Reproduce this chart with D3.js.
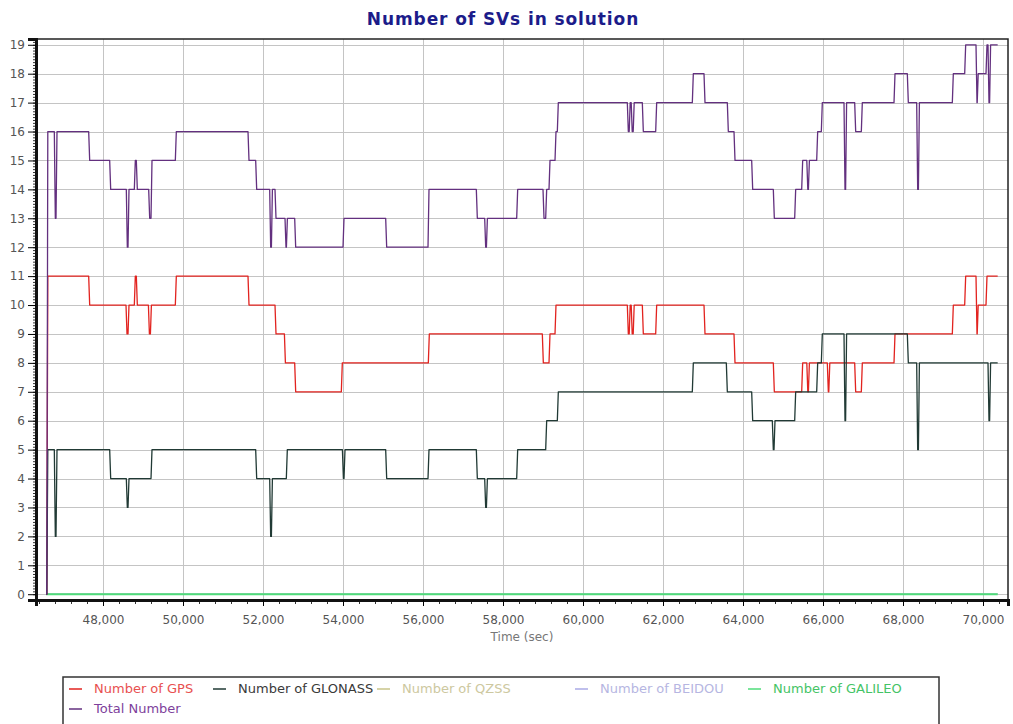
<!DOCTYPE html>
<html>
<head>
<meta charset="utf-8">
<script src="https://cdn.jsdelivr.net/npm/d3@7"></script>
<style>
body{margin:0;background:#fff;}
text{font-family:"DejaVu Sans",Verdana,sans-serif;}
</style>
</head>
<body>
<svg id="chart" width="1013" height="724"></svg>
<script>
// series: [time (sec), number of SVs] at each change
var gpsSteps=[[46575,0],[46620,11],[47667,10],[48600,9],[48650,10],[48808,11],[48858,10],[49160,9],[49210,10],[49833,11],[51650,10],[52325,9],[52560,8],[52817,7],[53983,8],[56158,9],[59008,8],[59175,9],[59325,10],[61133,9],[61180,10],[61230,9],[61280,10],[61508,9],[61842,10],[63050,9],[63800,8],[64783,7],[65492,8],[65620,7],[65660,8],[66133,7],[66170,8],[66817,7],[66983,8],[67800,9],[69258,10],[69567,11],[69850,9],[69880,10],[70100,11],[70367,11]];
var glonassSteps=[[46575,0],[46620,5],[46808,2],[46850,5],[48192,4],[48608,3],[48650,4],[49225,5],[51842,4],[52192,2],[52235,4],[52608,5],[54010,4],[54050,5],[55092,4],[56150,5],[57358,4],[57567,3],[57610,4],[58367,5],[59092,6],[59383,7],[62758,8],[63608,7],[64242,6],[64758,5],[64800,6],[65317,7],[65867,8],[65983,9],[66550,6],[66590,9],[68133,8],[68367,5],[68410,8],[70150,6],[70190,8],[70367,8]];
var qzssSteps=[[46575,0],[70367,0]];
var beidouSteps=[[46575,0],[70367,0]];
var galileoSteps=[[46575,0],[70367,0]];
var totalSteps=[[46575,0],[46620,16],[46808,13],[46850,16],[47667,15],[48192,14],[48608,12],[48650,14],[48808,15],[48858,14],[49167,13],[49225,15],[49833,16],[51650,15],[51842,14],[52192,12],[52235,14],[52325,13],[52575,12],[52610,13],[52817,12],[54025,13],[55092,12],[56150,14],[57358,13],[57567,12],[57610,13],[58367,14],[59025,13],[59092,14],[59175,15],[59325,16],[59383,17],[61133,16],[61180,17],[61230,16],[61280,17],[61508,16],[61842,17],[62758,18],[63050,17],[63633,16],[63800,15],[64242,14],[64783,13],[65317,14],[65492,15],[65620,14],[65660,15],[65867,16],[65983,17],[66550,14],[66590,17],[66817,16],[66983,17],[67800,18],[68133,17],[68367,14],[68410,17],[69258,18],[69567,19],[69850,17],[69880,18],[70100,19],[70150,17],[70190,19],[70367,19]];

var seriesNames=["Number of GPS","Number of GLONASS","Number of QZSS","Number of BEIDOU","Number of GALILEO","Total Number"];
var xTicks=[48000,50000,52000,54000,56000,58000,60000,62000,64000,66000,68000,70000];
var yTicks=[0,1,2,3,4,5,6,7,8,9,10,11,12,13,14,15,16,17,18,19];

var svg=d3.select("#chart");
var plotL=36,plotR=1008,plotT=39,plotB=600;

var x=d3.scaleLinear().domain([46325,70625]).range([plotL,plotR]);
var y=d3.scaleLinear().domain([-0.2,19.2]).range([plotB,plotT]);

// title
svg.append("text").attr("x",503).attr("y",25).attr("text-anchor","middle")
  .style("font-size","17px").style("font-weight","bold").style("fill","#1c1c8a")
  .style("letter-spacing","0.9px")
  .text("Number of SVs in solution");

// grid
svg.append("g").selectAll("line").data(yTicks).enter().append("line")
  .attr("x1",plotL).attr("x2",plotR)
  .attr("y1",function(d){return Math.round(y(d))+0.5}).attr("y2",function(d){return Math.round(y(d))+0.5})
  .style("stroke","#c4c4c4").style("stroke-width",1);
svg.append("g").selectAll("line").data(xTicks).enter().append("line")
  .attr("x1",function(d){return Math.round(x(d))+0.5}).attr("x2",function(d){return Math.round(x(d))+0.5})
  .attr("y1",plotT).attr("y2",plotB)
  .style("stroke","#c4c4c4").style("stroke-width",1);

// each change is reached over one sample interval, like the receiver log
var ramp=25;
var toPoints=function(steps){
  var pts=[steps[0]];
  for(var i=1;i<steps.length;i++){
    var prev=pts[pts.length-1];
    var start=Math.max(steps[i][0]-ramp,prev[0]);
    if(steps[i][1]!=steps[i-1][1]) pts.push([start,steps[i-1][1]]);
    pts.push(steps[i]);
  }
  return pts;
}

var seriesColors=["#e2231f","#213a35","#c9c48a","#aaaae6","#4fdc7a","#63307f"];
var seriesWidth=[1.3,1.3,1.3,1.3,2,1.3];
var seriesData=[gpsSteps,glonassSteps,qzssSteps,beidouSteps,galileoSteps,totalSteps];
var drawOrder=[2,3,4,0,1,5];
var line=d3.line().x(function(d){return x(d[0])}).y(function(d){return y(d[1])});
drawOrder.forEach(function(i){
  svg.append("path").datum(toPoints(seriesData[i])).attr("d",line)
    .style("fill","none").style("stroke",seriesColors[i]).style("stroke-width",seriesWidth[i])
    .style("stroke-linejoin","round");
});

// frame
svg.append("rect").attr("x",plotL).attr("y",plotT).attr("width",plotR-plotL).attr("height",plotB-plotT)
  .style("fill","none").style("stroke","#222").style("stroke-width",1.5);

// x axis
var xMinor=d3.range(46400,70700,400);
svg.append("g").attr("transform","translate(0,"+plotB+")")
  .call(d3.axisBottom(x).tickValues(xMinor).tickSize(4).tickFormat(""))
  .call(function(g){g.select(".domain").remove();g.selectAll("line").style("stroke","#333")});
var xAxis=svg.append("g").attr("transform","translate(0,"+plotB+")")
  .call(d3.axisBottom(x).tickValues(xTicks).tickSize(6).tickPadding(9).tickFormat(d3.format(",")));
xAxis.select(".domain").style("stroke","#111").style("stroke-width",3);
xAxis.selectAll("text").style("font-size","12px").style("fill","#555");
svg.append("text").attr("x",522).attr("y",641).attr("text-anchor","middle")
  .style("font-size","12px").style("fill","#777").text("Time (sec)");

// y axis
var yMinor=d3.range(0,19.15,0.1);
svg.append("g").attr("transform","translate("+plotL+",0)")
  .call(d3.axisLeft(y).tickValues(yMinor).tickSize(3).tickFormat(""))
  .call(function(g){g.select(".domain").remove();g.selectAll("line").style("stroke","#333")});
var yAxis=svg.append("g").attr("transform","translate("+plotL+",0)")
  .call(d3.axisLeft(y).tickValues(yTicks).tickSize(8).tickPadding(3).tickFormat(d3.format("d")));
yAxis.select(".domain").style("stroke","#111").style("stroke-width",3);
yAxis.selectAll("text").style("font-size","12px").style("fill","#555");

// legend
var legendColors=["#e85050","#3a3a3a","#cdc8a0","#b6b6e2","#44c466","#7e3f9c"];
var legendPos=[[69,689],[213,689],[377,689],[575,689],[748,689],[69,709]];
svg.append("rect").attr("x",63).attr("y",677).attr("width",876).attr("height",50)
  .style("fill","none").style("stroke","#333").style("stroke-width",1.5);
var items=svg.append("g").selectAll("g").data(seriesNames).enter().append("g")
  .attr("transform",function(d,i){return "translate("+legendPos[i][0]+","+legendPos[i][1]+")"});
items.append("line").attr("x1",0).attr("x2",13).attr("y1",0).attr("y2",0)
  .style("stroke",function(d,i){return seriesColors[i]}).style("stroke-width",1.5);
items.append("text").attr("x",25).attr("y",4).text(function(d){return d})
  .style("font-size","13px").style("fill",function(d,i){return legendColors[i]});
</script>
</body>
</html>
